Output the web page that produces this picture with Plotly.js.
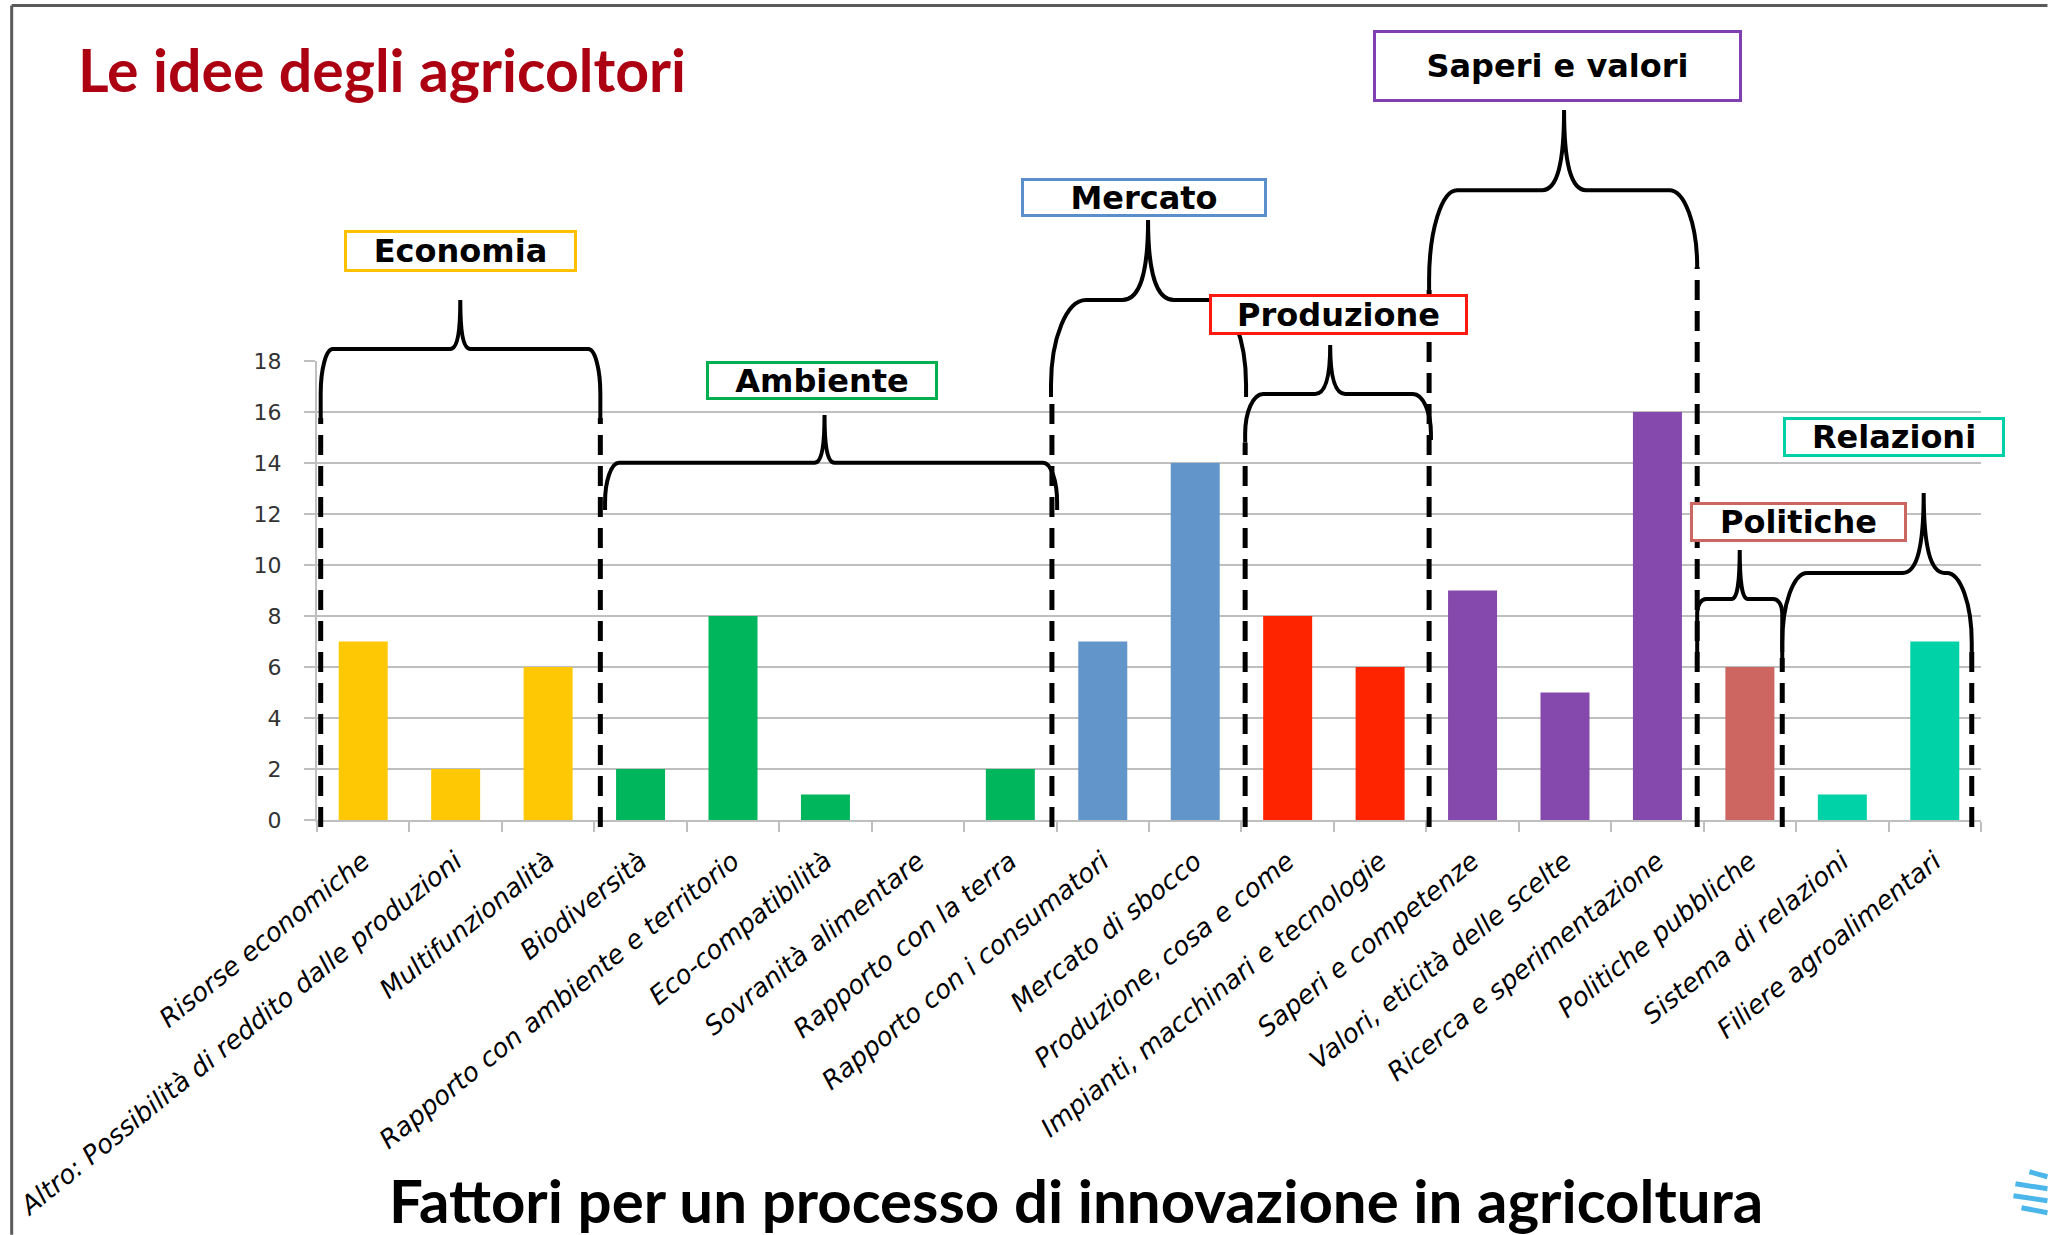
<!DOCTYPE html>
<html><head><meta charset="utf-8">
<script src="https://cdn.plot.ly/plotly-3.0.1.min.js"></script>
<style>html,body{margin:0;padding:0;background:#fff;overflow:hidden}#chart{width:2048px;height:1235px}</style>
</head><body><div id="chart"></div>
<script>
// ---------------- data ----------------
const categories = [
  'Risorse economiche',
  'Altro: Possibilità di reddito dalle produzioni',
  'Multifunzionalità',
  'Biodiversità',
  'Rapporto con ambiente e territorio',
  'Eco-compatibilità',
  'Sovranità alimentare',
  'Rapporto con la terra',
  'Rapporto con i consumatori',
  'Mercato di sbocco',
  'Produzione, cosa e come',
  'Impianti, macchinari e tecnologie',
  'Saperi e competenze',
  'Valori, eticità delle scelte',
  'Ricerca e sperimentazione',
  'Politiche pubbliche',
  'Sistema di relazioni',
  'Filiere agroalimentari'
];
const values = [7, 2, 6, 2, 8, 1, 0, 2, 7, 14, 8, 6, 9, 5, 16, 6, 1, 7];
const groupOf = [
  'Economia','Economia','Economia',
  'Ambiente','Ambiente','Ambiente','Ambiente','Ambiente',
  'Mercato','Mercato',
  'Produzione','Produzione',
  'Saperi e valori','Saperi e valori','Saperi e valori',
  'Politiche',
  'Relazioni','Relazioni'
];
const groupNames = ['Economia','Ambiente','Mercato','Produzione','Saperi e valori','Politiche','Relazioni'];
const yTicks = [0, 2, 4, 6, 8, 10, 12, 14, 16, 18];
const chartTitle = 'Le idee degli agricoltori';
const axisTitle = 'Fattori per un processo di innovazione in agricoltura';

// ---------------- styles ----------------
const barColors = {
  'Economia': '#FFC805', 'Ambiente': '#00B65C', 'Mercato': '#6295C9',
  'Produzione': '#FF2400', 'Saperi e valori': '#8548AD', 'Politiche': '#CD6660',
  'Relazioni': '#00D2A8'
};
const boxBorder = {
  'Economia': '#FFC000', 'Ambiente': '#00B050', 'Mercato': '#5B8FCC',
  'Produzione': '#FF1A10', 'Saperi e valori': '#8040B4', 'Politiche': '#CC6660',
  'Relazioni': '#00D0A8'
};

const W = 2048, H = 1235;
const M = {l: 316.5, r: 66.5, t: 360.7, b: 415};
const PW = W - M.l - M.r, PH = H - M.t - M.b;
const XMIN = -0.5, XMAX = categories.length - 0.5, YMAX = 18;

// axis units -> paper fractions
const xp = x => (x - XMIN) / (XMAX - XMIN);
const yp = y => y / YMAX;
const dx = px => px * (XMAX - XMIN) / PW;
const dy = px => px * YMAX / PH;
const xpx = px => (px - M.l) / PW;          // page pixel -> paper
const ypx = py => (H - M.b - py) / PH;

// decoration geometry (axis units; radii in px)
const braceDefs = [
  {xl:-0.46, xr:2.565, xc:1.05,  yh:18.47, yt:20.39, ybl:15.76, ybr:15.76, rx:12, ry:45, pw:10},
  {xl:2.616, xr:7.506, xc:4.99,  yh:14.01, yt:15.88, ybl:12.16, ybr:12.16, rx:14, ry:40, pw:10},
  {xl:7.44,  xr:9.55,  xc:8.49,  yh:20.39, yt:23.53, ybl:16.59, ybr:16.59, rx:35, ry:85, pw:26},
  {xl:9.54,  xr:11.55, xc:10.46, yh:16.71, yt:18.63, ybl:14.8,  ybr:14.9,  rx:18, ry:40, pw:15},
  {xl:11.53, xr:14.43, xc:12.99, yh:24.7,  yt:27.84, ybl:20.78, ybr:21.69, rx:28, ry:90, pw:22},
  {xl:14.43, xr:15.35, xc:14.89, yh:8.67,  yt:10.59, ybl:6.35,  ybr:6.35,  rx:9,  ry:14, pw:8},
  {xl:15.35, xr:17.40, xc:16.88, yh:9.69,  yt:12.82, ybl:6.59,  ybr:6.59,  rx:25, ry:70, pw:21}
];
const dividers = [
  {x:-0.46, top:15.76}, {x:2.565, top:15.76}, {x:7.45, top:16.59}, {x:9.54, top:14.8},
  {x:11.53, top:20.78}, {x:14.43, top:21.69}, {x:15.35, top:6.35}, {x:17.40, top:6.59}
];
const dividerBottom = -0.27;
const boxDefs = [
  {x:1.057,  y:22.30, w:233, h:42},
  {x:4.965,  y:17.22, w:232, h:39},
  {x:8.446,  y:24.43, w:246, h:39},
  {x:10.549, y:19.81, w:259, h:41},
  {x:12.916, y:29.55, w:369, h:72},
  {x:15.522, y:11.68, w:217, h:40},
  {x:16.554, y:15.01, w:222, h:40}
];

function bracePath(b) {
  const rx = dx(b.rx), ry = dy(b.ry), pw = dx(b.pw), K = 0.5523;
  const P = (x, y) => xp(x).toFixed(5) + ',' + yp(y).toFixed(5);
  const csl = Math.max(b.ybl, b.yh - ry), csr = Math.max(b.ybr, b.yh - ry);
  const hL = b.yh - csl, hR = b.yh - csr, up = (b.yt - b.yh) * 0.35;
  return 'M' + P(b.xl, b.ybl) + ' L' + P(b.xl, csl) +
    ' C' + P(b.xl, csl + K * hL) + ' ' + P(b.xl + (1 - K) * rx, b.yh) + ' ' + P(b.xl + rx, b.yh) +
    ' L' + P(b.xc - pw, b.yh) +
    ' C' + P(b.xc - pw * 0.3, b.yh) + ' ' + P(b.xc, b.yh + up) + ' ' + P(b.xc, b.yt) +
    ' C' + P(b.xc, b.yh + up) + ' ' + P(b.xc + pw * 0.3, b.yh) + ' ' + P(b.xc + pw, b.yh) +
    ' L' + P(b.xr - rx, b.yh) +
    ' C' + P(b.xr - (1 - K) * rx, b.yh) + ' ' + P(b.xr, csr + K * hR) + ' ' + P(b.xr, csr) +
    ' L' + P(b.xr, b.ybr);
}

const shapes = [];
// slide frame (top and left border)
shapes.push({type:'line', xref:'paper', yref:'paper', x0:xpx(11), x1:xpx(2048), y0:ypx(5), y1:ypx(5),
  line:{color:'#5A5A5A', width:3}});
shapes.push({type:'line', xref:'paper', yref:'paper', x0:xpx(11), x1:xpx(11), y0:ypx(5), y1:ypx(1235),
  line:{color:'#5A5A5A', width:3}});
dividers.forEach(d => shapes.push({type:'line', xref:'paper', yref:'paper',
  x0:xp(d.x), x1:xp(d.x), y0:yp(dividerBottom), y1:yp(d.top),
  line:{color:'#000', width:5, dash:'20px,11px'}}));
braceDefs.forEach(b => shapes.push({type:'path', xref:'paper', yref:'paper', path:bracePath(b),
  line:{color:'#000', width:4}, fillcolor:'rgba(0,0,0,0)'}));
// partial logo at bottom right
[[1172,2030],[1184,2016],[1196,2014],[1208,2022]].forEach(p => shapes.push({type:'line', xref:'paper', yref:'paper',
  x0:xpx(p[1]), x1:xpx(2048), y0:ypx(p[0]), y1:ypx(p[0] + 5), line:{color:'#4BB6EA', width:5}}));

const annotations = groupNames.map((g, i) => {
  const b = boxDefs[i];
  return {xref:'paper', yref:'paper', x:xp(b.x), y:yp(b.y), xanchor:'center', yanchor:'middle',
    text:g, showarrow:false, width:b.w - 6, height:b.h - 6, borderwidth:3, borderpad:0,
    bordercolor:boxBorder[g], bgcolor:'#fff', valign:'middle',
    font:{family:'DejaVu Sans', size:32, weight:'bold', color:'#000'}};
});
annotations.push({xref:'paper', yref:'paper', x:xpx(1076), y:ypx(1200), xanchor:'center', yanchor:'middle',
  text:axisTitle, showarrow:false, font:{family:'Lato', size:60, weight:'bold', color:'#000'}});

const trace = {
  type:'bar', x:categories, y:values,
  marker:{color:categories.map((c, i) => barColors[groupOf[i]]), line:{width:0}},
  hoverinfo:'skip'
};

const layout = {
  width:W, height:H, margin:M, paper_bgcolor:'#fff', plot_bgcolor:'#fff', showlegend:false,
  bargap:0.47,
  title:{text:chartTitle, xref:'container', yref:'container', x:78 / W, xanchor:'left',
    y:1 - 71 / H, yanchor:'middle', font:{family:'Lato', size:59, weight:'bold', color:'#AC0012'}},
  xaxis:{type:'category', range:[XMIN, XMAX], showline:true, linecolor:'#BFBFBF', linewidth:2,
    ticks:'outside', tickson:'boundaries', ticklen:10, tickwidth:2, tickcolor:'#BFBFBF',
    tickangle:-39, ticklabelstandoff:14, showgrid:false, zeroline:false, automargin:false, fixedrange:true,
    tickfont:{family:'DejaVu Sans', size:26, style:'italic', color:'#000'}},
  yaxis:{range:[0, YMAX], tickvals:yTicks, showline:true, linecolor:'#BFBFBF', linewidth:2,
    ticks:'outside', ticklen:11, tickwidth:2, tickcolor:'#BFBFBF', gridcolor:'#BFBFBF', gridwidth:2,
    zeroline:false, automargin:false, fixedrange:true, ticklabelstandoff:18,
    tickfont:{family:'DejaVu Sans', size:22, color:'#333'}},
  shapes:shapes, annotations:annotations
};

Plotly.newPlot('chart', [trace], layout, {staticPlot:true, displayModeBar:false});
</script></body></html>
